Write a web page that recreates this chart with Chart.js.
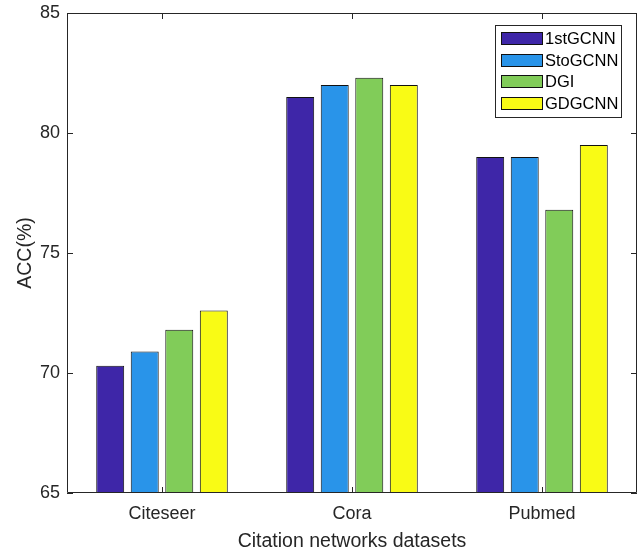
<!DOCTYPE html>
<html>
<head>
    <meta charset="utf-8">
    <title>ACC on citation networks</title>
    <script src="https://cdn.jsdelivr.net/npm/chart.js"></script>
    <style>
        body { margin: 0; background: #fff; }
        canvas { display: block; }
    </style>
</head>
<body>
<canvas id="accChart" width="641" height="553"></canvas>
<script>
    const categories = ['Citeseer', 'Cora', 'Pubmed'];
    const methods = ['1stGCNN', 'StoGCNN', 'DGI', 'GDGCNN'];
    const firstGcnn = [70.3, 81.5, 79.0];
    const stoGcnn = [70.9, 82.0, 79.0];
    const dgi = [71.8, 82.3, 76.8];
    const gdGcnn = [72.6, 82.0, 79.5];
    const yTicks = [65, 70, 75, 80, 85];

    const colors = ['#3e26a8', '#2994e9', '#81cc59', '#f9fb15'];
    const series = [firstGcnn, stoGcnn, dgi, gdGcnn];
    const axisColor = '#262626';
    const font = 'Liberation Sans, Arial, sans-serif';

    // MATLAB-like box with inward ticks
    const framePlugin = {
        id: 'frame',
        afterDatasetsDraw(chart) {
            const { ctx, chartArea: a, scales } = chart;
            const len = 6;
            ctx.save();
            ctx.strokeStyle = axisColor;
            ctx.lineWidth = 1;
            ctx.beginPath();
            ctx.rect(a.left + 0.5, a.top + 0.5, a.right - a.left - 1, a.bottom - a.top - 1);
            yTicks.forEach(v => {
                const y = Math.round(scales.y.getPixelForValue(v)) + 0.5;
                ctx.moveTo(a.left, y); ctx.lineTo(a.left + len, y);
                ctx.moveTo(a.right, y); ctx.lineTo(a.right - len, y);
            });
            categories.forEach((c, i) => {
                const x = Math.round(scales.x.getPixelForValue(i)) + 0.5;
                ctx.moveTo(x, a.bottom); ctx.lineTo(x, a.bottom - len);
                ctx.moveTo(x, a.top); ctx.lineTo(x, a.top + len);
            });
            ctx.stroke();
            ctx.restore();
        }
    };

    const legendPlugin = {
        id: 'boxLegend',
        afterDraw(chart) {
            const { ctx } = chart;
            const bx = 495, by = 25, bw = 126, bh = 92;
            ctx.save();
            ctx.fillStyle = '#fff';
            ctx.fillRect(bx, by, bw, bh);
            ctx.strokeStyle = axisColor;
            ctx.lineWidth = 1;
            ctx.strokeRect(bx + 0.5, by + 0.5, bw, bh);
            ctx.font = '16.5px ' + font;
            ctx.textBaseline = 'middle';
            chart.data.datasets.forEach((ds, i) => {
                const cy = 38.5 + i * 21.6;
                ctx.fillStyle = ds.backgroundColor;
                ctx.fillRect(501, Math.round(cy - 6.5), 42, 13);
                ctx.strokeStyle = '#111';
                ctx.strokeRect(501.5, Math.round(cy - 6.5) + 0.5, 41, 12);
                ctx.fillStyle = '#000';
                ctx.fillText(ds.label, 545, cy + 1);
            });
            ctx.restore();
        }
    };

    new Chart(document.getElementById('accChart'), {
        type: 'bar',
        data: {
            labels: categories,
            datasets: methods.map((m, i) => ({
                label: m,
                data: series[i],
                backgroundColor: colors[i],
                borderColor: '#111',
                borderWidth: 1,
                borderSkipped: false,
                categoryPercentage: 0.727,
                barPercentage: 0.81
            }))
        },
        options: {
            responsive: false,
            animation: false,
            layout: { padding: { left: 0, right: 4, top: 13, bottom: 0 } },
            plugins: {
                legend: { display: false },
                tooltip: { enabled: false }
            },
            scales: {
                x: {
                    grid: { display: false, drawTicks: false },
                    border: { display: false },
                    ticks: { color: axisColor, font: { family: font, size: 18 }, padding: 10 },
                    title: {
                        display: true,
                        text: 'Citation networks datasets',
                        color: axisColor,
                        font: { family: font, size: 19.5 },
                        padding: { top: 0, bottom: 0 }
                    },
                    afterFit(scale) { scale.height = 60; }
                },
                y: {
                    min: 65,
                    max: 85,
                    afterBuildTicks(scale) { scale.ticks = yTicks.map(v => ({ value: v })); },
                    grid: { display: false, drawTicks: false },
                    border: { display: false },
                    ticks: { color: axisColor, font: { family: font, size: 18 }, padding: 7 },
                    title: {
                        display: true,
                        text: 'ACC(%)',
                        color: axisColor,
                        font: { family: font, size: 19.5 },
                        padding: { top: 14, bottom: 0 }
                    },
                    afterFit(scale) {
                        scale.width = 67;
                        scale.paddingTop = 0;
                        scale.paddingBottom = 0;
                    }
                }
            }
        },
        plugins: [framePlugin, legendPlugin]
    });
</script>
</body>
</html>
